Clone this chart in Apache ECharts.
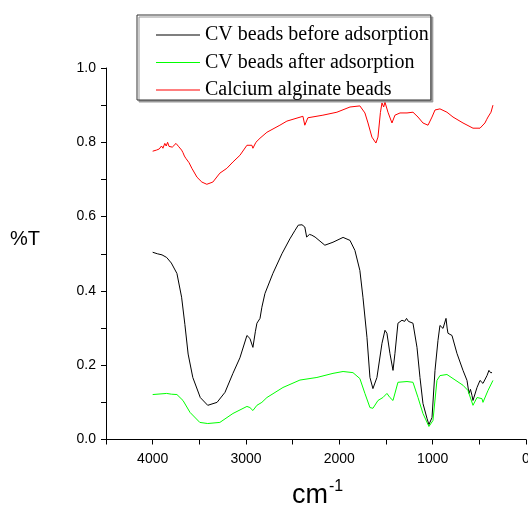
<!DOCTYPE html>
<html>
<head>
<meta charset="utf-8">
<script src="https://cdn.jsdelivr.net/npm/echarts@6/dist/echarts.min.js"></script>
<style>
  html, body { margin: 0; padding: 0; background: #fff; }
  #main { width: 528px; height: 509px; }
</style>
</head>
<body>
<div id="main"></div>
<script>
// series names as in the legend
const seriesNames = [
  "CV beads before adsorption",
  "CV beads after adsorption",
  "Calcium alginate beads"
];
const seriesColors = ["#000000", "#00ff00", "#ff0000"];

// [wavenumber cm-1, %T]
const beforeAdsorption = [
  [4000, 0.504], [3950, 0.5], [3900, 0.497], [3850, 0.49], [3800, 0.475], [3740, 0.447],
  [3690, 0.383], [3655, 0.31], [3620, 0.23], [3570, 0.167], [3490, 0.113], [3410, 0.092],
  [3310, 0.1], [3225, 0.127], [3140, 0.178], [3065, 0.22], [2990, 0.28], [2958, 0.272],
  [2926, 0.248], [2900, 0.29], [2883, 0.313], [2850, 0.326], [2830, 0.356], [2797, 0.393],
  [2712, 0.447], [2615, 0.5], [2530, 0.54], [2475, 0.563], [2440, 0.577], [2400, 0.578],
  [2370, 0.572], [2350, 0.545], [2320, 0.552], [2295, 0.55], [2260, 0.545], [2155, 0.523],
  [2068, 0.531], [1960, 0.544], [1886, 0.536], [1833, 0.509], [1780, 0.455], [1747, 0.383],
  [1704, 0.275], [1672, 0.167], [1640, 0.137], [1597, 0.167], [1543, 0.259], [1511, 0.294],
  [1490, 0.286], [1458, 0.232], [1425, 0.186], [1404, 0.232], [1372, 0.313], [1329, 0.321],
  [1300, 0.318], [1280, 0.326], [1260, 0.318], [1243, 0.322], [1211, 0.313], [1168, 0.248],
  [1136, 0.167], [1104, 0.097], [1061, 0.057], [1040, 0.04], [1007, 0.059], [975, 0.186],
  [943, 0.267], [922, 0.307], [889, 0.299], [857, 0.326], [845, 0.3], [836, 0.286],
  [820, 0.29], [793, 0.28], [740, 0.232], [675, 0.186], [632, 0.159], [611, 0.124],
  [595, 0.135], [579, 0.119], [568, 0.105], [525, 0.14], [493, 0.159], [461, 0.151],
  [418, 0.172], [397, 0.186], [380, 0.18], [364, 0.18]
];

const afterAdsorption = [
  [4000, 0.121], [3900, 0.123], [3850, 0.124], [3800, 0.122], [3740, 0.121], [3675, 0.105],
  [3600, 0.073], [3495, 0.046], [3410, 0.043], [3280, 0.046], [3140, 0.07], [2990, 0.089],
  [2958, 0.086], [2926, 0.078], [2883, 0.092], [2830, 0.1], [2776, 0.113], [2604, 0.14],
  [2422, 0.16], [2240, 0.167], [2068, 0.178], [1960, 0.183], [1854, 0.18], [1780, 0.164],
  [1726, 0.124], [1672, 0.086], [1640, 0.084], [1586, 0.105], [1533, 0.113], [1490, 0.124],
  [1458, 0.113], [1425, 0.105], [1372, 0.154], [1275, 0.156], [1211, 0.154], [1157, 0.113],
  [1104, 0.07], [1040, 0.035], [997, 0.051], [954, 0.159], [922, 0.172], [847, 0.175],
  [782, 0.164], [675, 0.146], [622, 0.132], [568, 0.092], [525, 0.113], [472, 0.11],
  [461, 0.1], [407, 0.132], [354, 0.159]
];

const alginateBeads = [
  [4000, 0.776], [3960, 0.779], [3930, 0.782], [3905, 0.79], [3890, 0.784], [3870, 0.797],
  [3855, 0.79], [3840, 0.8], [3825, 0.789], [3810, 0.794], [3790, 0.787], [3770, 0.79],
  [3750, 0.797], [3735, 0.8], [3720, 0.788], [3705, 0.784], [3690, 0.779], [3675, 0.772],
  [3660, 0.763], [3645, 0.757], [3630, 0.755], [3610, 0.745], [3580, 0.73], [3525, 0.706],
  [3473, 0.693], [3420, 0.687], [3355, 0.693], [3280, 0.717], [3205, 0.73], [3140, 0.747],
  [3065, 0.765], [2990, 0.792], [2937, 0.792], [2926, 0.784], [2894, 0.8], [2850, 0.811],
  [2776, 0.827], [2637, 0.846], [2562, 0.857], [2390, 0.87], [2370, 0.846], [2337, 0.866],
  [2176, 0.873], [2026, 0.881], [1886, 0.895], [1780, 0.898], [1726, 0.879], [1693, 0.852],
  [1651, 0.814], [1608, 0.798], [1586, 0.814], [1560, 0.88], [1543, 0.906], [1525, 0.895],
  [1511, 0.908], [1479, 0.881], [1436, 0.852], [1404, 0.873], [1350, 0.879], [1275, 0.879],
  [1211, 0.881], [1157, 0.868], [1104, 0.852], [1050, 0.846], [1007, 0.868], [975, 0.887],
  [922, 0.89], [847, 0.881], [782, 0.868], [675, 0.852], [568, 0.838], [493, 0.838],
  [440, 0.852], [420, 0.862], [407, 0.868], [390, 0.872], [375, 0.881], [354, 0.9]
];

const xTickLabels = [0, 1000, 2000, 3000, 4000];
const yTickLabels = [0, 0.2, 0.4, 0.6, 0.8, 1.0];

const chart = echarts.init(document.getElementById("main"));

const axisFont = { fontFamily: "Liberation Sans, Arial, sans-serif", fontSize: 14, color: "#000" };

chart.setOption({
  animation: false,
  backgroundColor: "#fff",
  grid: { left: 106, right: 2, top: 68, bottom: 69.5, outerBoundsMode: "none" },
  legend: {
    orient: "vertical",
    left: 137,
    top: 15,
    padding: [10, 2, 0, 19],
    itemGap: 7.5,
    itemWidth: 44,
    itemHeight: 1,
    icon: "rect",
    backgroundColor: "#fff",
    borderColor: "#333",
    borderWidth: 1,
    shadowColor: "#999",
    shadowOffsetX: 2,
    shadowOffsetY: 2,
    shadowBlur: 0,
    textStyle: {
      fontFamily: "Liberation Serif, Times New Roman, serif",
      fontSize: 20,
      lineHeight: 20,
      color: "#000"
    },
    data: seriesNames
  },
  xAxis: {
    type: "value",
    min: 0,
    max: 4500,
    interval: 500,
    inverse: true,
    splitLine: { show: false },
    axisLine: { lineStyle: { color: "#000", width: 1 } },
    axisTick: { inside: false, length: 5, lineStyle: { color: "#000" } },
    axisLabel: Object.assign({
      margin: 13,
      formatter: v => xTickLabels.includes(v) ? String(v) : ""
    }, axisFont)
  },
  yAxis: {
    type: "value",
    min: 0,
    max: 1,
    interval: 0.1,
    splitLine: { show: false },
    axisLine: { show: true, onZero: false, lineStyle: { color: "#000", width: 1 } },
    axisTick: { show: true, inside: false, length: 5, lineStyle: { color: "#000" } },
    axisLabel: Object.assign({
      margin: 10,
      formatter: v => yTickLabels.some(t => Math.abs(t - v) < 1e-6) ? v.toFixed(1) : ""
    }, axisFont)
  },
  graphic: [
    {
      type: "text",
      left: 10,
      top: 229,
      style: { text: "%T", fontFamily: "Liberation Sans, Arial, sans-serif", fontSize: 20, fill: "#000" }
    },
    {
      type: "text",
      left: 292,
      top: 479,
      style: {
        text: "{b|cm}{s|-1}",
        rich: {
          b: { fontFamily: "Liberation Sans, Arial, sans-serif", fontSize: 27, fill: "#000", verticalAlign: "bottom" },
          s: { fontFamily: "Liberation Sans, Arial, sans-serif", fontSize: 16, fill: "#000", verticalAlign: "top", padding: [0, 0, 14, 1] }
        }
      }
    }
  ],
  series: [
    { name: seriesNames[0], data: beforeAdsorption },
    { name: seriesNames[1], data: afterAdsorption },
    { name: seriesNames[2], data: alginateBeads }
  ].map((s, i) => Object.assign({
    type: "line",
    showSymbol: false,
    symbol: "none",
    color: seriesColors[i],
    lineStyle: { width: 1, color: seriesColors[i] },
    smooth: false
  }, s))
});
</script>
</body>
</html>
